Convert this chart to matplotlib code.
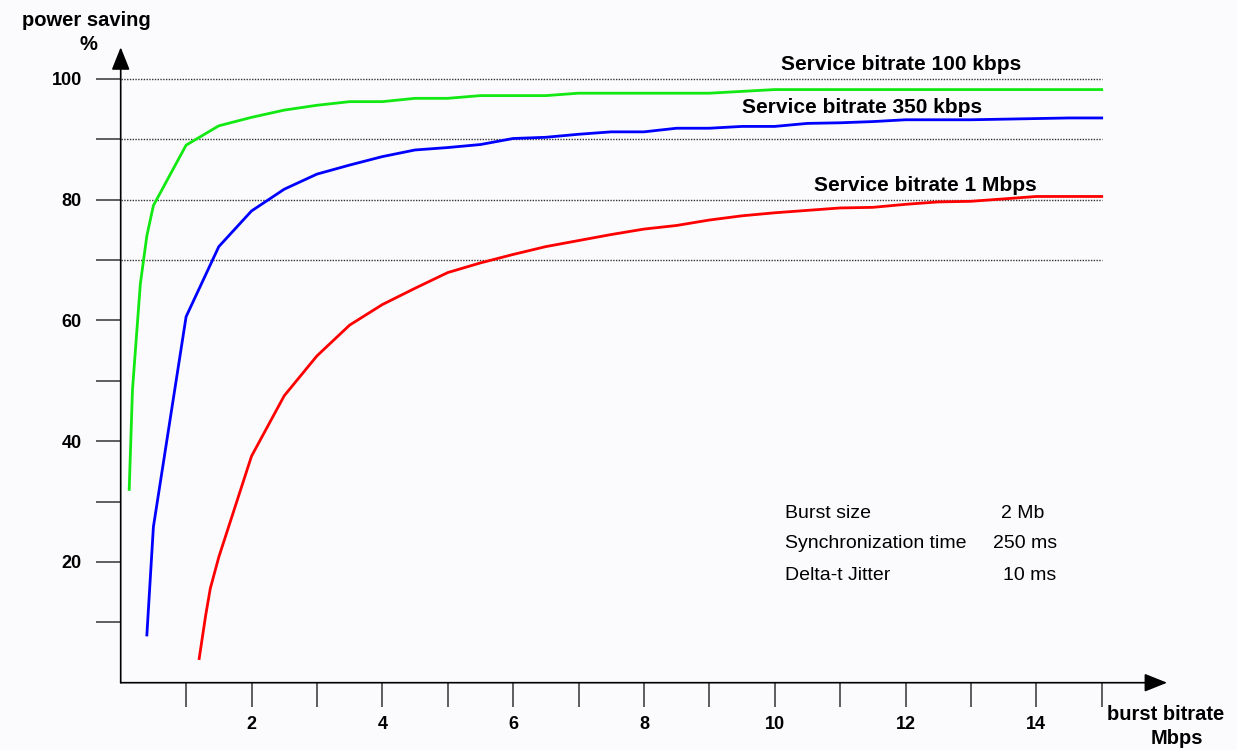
#!/usr/bin/env python3

"""
Power saving versus burst bitrate for three service bitrates.
"""

import matplotlib
matplotlib.use("Agg")
import matplotlib.pyplot as plt
from matplotlib.patches import ArrowStyle

# Service bitrate 100 kbps
x_100 = [0.13, 0.18, 0.3, 0.4, 0.5, 1.0, 1.5, 2.0, 2.5, 3.0, 3.5, 4.0, 4.5,
         5.0, 5.5, 6.0, 6.5, 7.0, 7.5, 8.0, 8.5, 9.0, 9.5, 10.0, 10.5, 11.0,
         11.5, 12.0, 12.5, 13.0, 13.5, 14.0, 14.5, 15.0]
y_100 = [32.0, 48.5, 66.0, 74.0, 79.0, 89.0, 92.2, 93.6, 94.8, 95.6, 96.2,
         96.2, 96.75, 96.75, 97.2, 97.2, 97.2, 97.6, 97.6, 97.6, 97.6, 97.6,
         97.9, 98.2, 98.2, 98.2, 98.2, 98.2, 98.2, 98.2, 98.2, 98.2, 98.2, 98.2]

# Service bitrate 350 kbps
x_350 = [0.4, 0.5, 1.0, 1.5, 2.0, 2.5, 3.0, 3.5, 4.0, 4.5, 5.0, 5.5, 6.0,
         6.5, 7.0, 7.5, 8.0, 8.5, 9.0, 9.5, 10.0, 10.5, 11.0, 11.5, 12.0,
         12.5, 13.0, 13.5, 14.0, 14.5, 15.0]
y_350 = [7.9, 25.8, 60.6, 72.2, 78.1, 81.7, 84.2, 85.7, 87.1, 88.2, 88.6,
         89.1, 90.1, 90.3, 90.8, 91.2, 91.2, 91.8, 91.8, 92.1, 92.1, 92.6,
         92.7, 92.9, 93.2, 93.2, 93.2, 93.3, 93.4, 93.5, 93.5]

# Service bitrate 1 Mbps
x_1m = [1.2, 1.3, 1.37, 1.5, 2.0, 2.5, 3.0, 3.5, 4.0, 4.5, 5.0, 5.5, 6.0,
        6.5, 7.0, 7.5, 8.0, 8.5, 9.0, 9.5, 10.0, 10.5, 11.0, 11.5, 12.0,
        12.5, 13.0, 13.5, 14.0, 14.5, 15.0]
y_1m = [4.0, 11.2, 15.6, 20.8, 37.5, 47.5, 54.1, 59.2, 62.6, 65.3, 67.9,
        69.5, 70.9, 72.2, 73.2, 74.2, 75.1, 75.7, 76.6, 77.3, 77.8, 78.2,
        78.6, 78.7, 79.2, 79.6, 79.7, 80.1, 80.5, 80.5, 80.5]

series_labels = ["Service bitrate 100 kbps", "Service bitrate 350 kbps",
                 "Service bitrate 1 Mbps"]
grid_levels = [70, 80, 90, 100]
x_ticks = list(range(1, 16))
x_tick_labels = ["", "2", "", "4", "", "6", "", "8", "", "10", "", "12", "",
                 "14", ""]
y_ticks = list(range(10, 101, 10))
y_tick_labels = ["", "20", "", "40", "", "60", "", "80", "", "100"]

params_names = ["Burst size", "Synchronization time", "Delta-t Jitter"]
params_values = ["2 Mb", "250 ms", "10 ms"]

W, H = 1237, 750


def fx(px):
    return px / W


def fy(py):
    return 1 - py / H


def plot_chart():
    fig = plt.figure(figsize=(W / 100, H / 100), dpi=100)
    fig.patch.set_facecolor("#fbfbfd")

    # axes placed so that x=0 sits at px 120.7 and y=0 at px 682.7
    ax = fig.add_axes([fx(120.7), fy(682.7), 16 * 65.4 / W, 106 * 6.04 / H])
    ax.set_xlim(0, 16)
    ax.set_ylim(0, 106)
    ax.set_facecolor("none")
    for s in ax.spines.values():
        s.set_visible(False)

    # dotted reference lines
    for g in grid_levels:
        ax.plot([0, 15], [g, g], color="#333333", lw=1.0,
                ls=(0, (1, 1)), zorder=1)

    ax.plot(x_100, y_100, color="#12e812", lw=2.0, zorder=3)
    ax.plot(x_350, y_350, color="#0000ff", lw=2.0, zorder=3)
    ax.plot(x_1m, y_1m, color="#ff0000", lw=2.0, zorder=3)

    # axes with arrow heads
    style = ArrowStyle("-|>", head_length=0.7, head_width=0.28)
    ax.annotate("", xy=(16, 0), xytext=(0, 0), annotation_clip=False,
                arrowprops=dict(arrowstyle=style, color="black", lw=1.2,
                                mutation_scale=20, shrinkA=0, shrinkB=0))
    ax.annotate("", xy=(0, 105.2), xytext=(0, 0), annotation_clip=False,
                arrowprops=dict(arrowstyle=style, color="black", lw=1.2,
                                mutation_scale=20, shrinkA=0, shrinkB=0))

    ax.set_xticks(x_ticks)
    ax.set_xticklabels(x_tick_labels, fontsize=13, fontweight="bold",
                       family="Liberation Sans")
    ax.set_yticks(y_ticks)
    ax.set_yticklabels(y_tick_labels, fontsize=13, fontweight="bold",
                       family="Liberation Sans")
    ax.tick_params(axis="x", length=17, width=1.1, pad=7, color="#333333")
    ax.tick_params(axis="y", length=18, width=1.1, pad=10, color="#333333")

    # curve labels
    label_kw = dict(fontsize=15, fontweight="bold", family="Liberation Sans",
                    ha="center", va="center")
    ax.text(11.94, 102.3, series_labels[0], **label_kw)
    ax.text(11.33, 95.3, series_labels[1], **label_kw)
    ax.text(12.3, 82.4, series_labels[2], **label_kw)

    # parameter box
    rows_y = [513, 544, 575]
    value_x = [1001, 993, 1003]
    for name, val, py, vx in zip(params_names, params_values, rows_y, value_x):
        fig.text(fx(785), fy(py), name, fontsize=14, family="Liberation Sans",
                 ha="left", va="center")
        fig.text(fx(vx), fy(py), val, fontsize=14, family="Liberation Sans",
                 ha="left", va="center")

    # axis titles
    fig.text(fx(86), fy(20), "power saving", fontsize=14.5, fontweight="bold",
             family="Liberation Sans", ha="center", va="center")
    fig.text(fx(88), fy(45), "%", fontsize=14.5, fontweight="bold",
             family="Liberation Sans", ha="center", va="center")
    fig.text(fx(1166), fy(715), "burst bitrate", fontsize=14.5,
             fontweight="bold", family="Liberation Sans", ha="center",
             va="center")
    fig.text(fx(1177), fy(738), "Mbps", fontsize=14.5, fontweight="bold",
             family="Liberation Sans", ha="center", va="center")

    fig.savefig("out.png", dpi=100, facecolor=fig.get_facecolor())


if __name__ == "__main__":
    plot_chart()
